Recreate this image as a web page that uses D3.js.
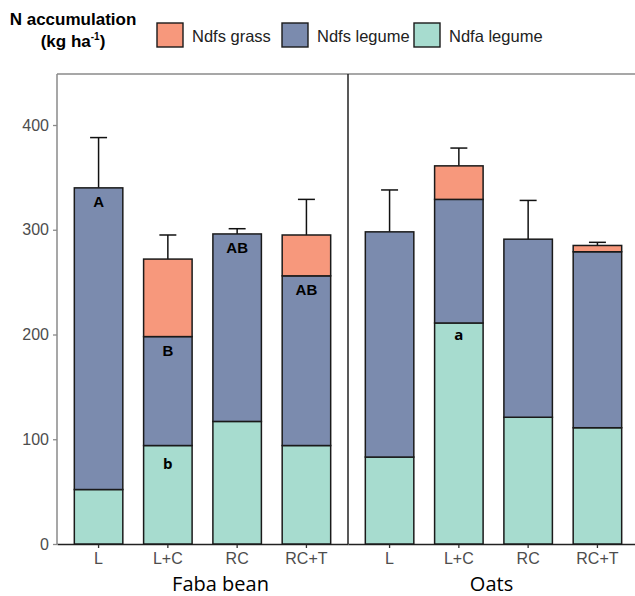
<!DOCTYPE html>
<html>
<head>
<meta charset="utf-8">
<script src="https://cdn.jsdelivr.net/npm/d3@7"></script>
<style>
  body { margin: 0; background: #fff; }
</style>
</head>
<body>
<div id="chart"></div>
<script>
// data
var crops = ["Faba bean", "Oats"];
var treatments = ["L", "L+C", "RC", "RC+T"];
var ndfaLegume = [52, 94, 117, 94, 83, 211, 121, 111];
var ndfsLegume = [288, 104, 179, 162, 215, 118, 170, 168];
var ndfsGrass = [0, 74, 0, 39, 0, 32, 0, 6];
var errorSE = [48, 23, 5, 34, 40, 17, 37, 3];
var lettersUpper = ["A", "B", "AB", "AB", "", "", "", ""];
var lettersLower = ["", "b", "", "", "", "a", "", ""];
var yTicks = [0, 100, 200, 300, 400];

var seriesNames = ["Ndfs grass", "Ndfs legume", "Ndfa legume"];
var colors = {"Ndfs grass": "#F7987C", "Ndfs legume": "#7B8BAE", "Ndfa legume": "#A7DCCF"};

var svgWidth = 635;
var svgHeight = 596;
var margin = {top: 74, left: 57, bottom: 52};
var panelWidth = 291;
var plotBottom = svgHeight - margin.bottom;

var svg = d3.select("#chart")
  .append("svg")
  .attr("width", svgWidth)
  .attr("height", svgHeight);

// build rows
var rows = [];
crops.forEach(function(crop, ci) {
  treatments.forEach(function(t, ti) {
    var i = ci * 4 + ti;
    rows.push({
      crop: crop, treat: t, idx: i,
      "Ndfa legume": ndfaLegume[i],
      "Ndfs legume": ndfsLegume[i],
      "Ndfs grass": ndfsGrass[i],
      se: errorSE[i]
    });
  });
});

var y = d3.scaleLinear()
  .domain([0, 448.7])
  .range([plotBottom, margin.top]);

var xPanel = d3.scaleBand()
  .domain(crops)
  .range([margin.left, margin.left + panelWidth * 2]);

var x = d3.scaleBand()
  .domain(treatments)
  .range([0, panelWidth])
  .paddingInner(0.3)
  .paddingOuter(0.25);

var stack = d3.stack().keys(["Ndfa legume", "Ndfs legume", "Ndfs grass"]);
var stacked = stack(rows);

// top border
svg.append("line")
  .attr("x1", margin.left).attr("x2", svgWidth)
  .attr("y1", margin.top).attr("y2", margin.top)
  .attr("stroke", "#8a8a8a").attr("stroke-width", 1.5);

// y axis
var yAxis = svg.append("g")
  .attr("transform", `translate(${margin.left},0)`)
  .call(d3.axisLeft(y).tickValues(yTicks).tickSize(4).tickSizeOuter(0));
yAxis.select(".domain").attr("stroke", "#8a8a8a").attr("stroke-width", 1.5)
  .attr("d", `M0,${margin.top}V${plotBottom}`);
yAxis.selectAll(".tick line").attr("stroke", "#8a8a8a").attr("stroke-width", 1.3);
yAxis.selectAll(".tick text")
  .attr("fill", "#4d4d4d")
  .attr("font-family", "Liberation Sans, Arial, sans-serif")
  .attr("font-size", "16px")
  .attr("dx", "-1");

// panel separator
svg.append("line")
  .attr("x1", xPanel("Oats")).attr("x2", xPanel("Oats"))
  .attr("y1", margin.top).attr("y2", plotBottom)
  .attr("stroke", "#222").attr("stroke-width", 1.5);

crops.forEach(function(crop) {
  var g = svg.append("g").attr("transform", `translate(${xPanel(crop)},0)`);
  var xa = g.append("g")
    .attr("transform", `translate(0,${plotBottom})`)
    .call(d3.axisBottom(x).tickSize(4).tickSizeOuter(0).tickPadding(5));
  xa.select(".domain").attr("stroke", "#222").attr("stroke-width", 1.5);
  xa.selectAll(".tick line").attr("stroke", "#333").attr("stroke-width", 1.3);
  xa.selectAll(".tick text")
    .attr("fill", "#4d4d4d")
    .attr("font-family", "Liberation Sans, Arial, sans-serif")
    .attr("font-size", "16px");

  g.append("text")
    .attr("x", panelWidth / 2 + (crop === "Faba bean" ? 18 : -2))
    .attr("y", 591)
    .attr("text-anchor", "middle")
    .attr("font-family", "Open Sans, sans-serif")
    .attr("font-size", "20px")
    .attr("fill", "#000")
    .text(crop);
});

// error bars
var errG = svg.append("g");
rows.forEach(function(d) {
  var total = d["Ndfa legume"] + d["Ndfs legume"] + d["Ndfs grass"];
  var cx = xPanel(d.crop) + x(d.treat) + x.bandwidth() / 2;
  var cap = x.bandwidth() * 0.175;
  errG.append("line")
    .attr("x1", cx).attr("x2", cx)
    .attr("y1", y(total)).attr("y2", y(total + d.se))
    .attr("stroke", "#111").attr("stroke-width", 1.5);
  errG.append("line")
    .attr("x1", cx - cap).attr("x2", cx + cap)
    .attr("y1", y(total + d.se)).attr("y2", y(total + d.se))
    .attr("stroke", "#111").attr("stroke-width", 1.5);
});

// stacked bars
stacked.forEach(function(layer) {
  svg.append("g")
    .selectAll("rect")
    .data(layer.filter(function(s) { return s[1] - s[0] > 0; }))
    .enter()
    .append("rect")
    .attr("x", function(s) { return xPanel(s.data.crop) + x(s.data.treat); })
    .attr("width", x.bandwidth())
    .attr("y", function(s) { return y(s[1]); })
    .attr("height", function(s) { return y(s[0]) - y(s[1]); })
    .attr("fill", colors[layer.key])
    .attr("stroke", "#1a1a1a")
    .attr("stroke-width", 1.5);
});

// significance letters
var legTop = stacked[1];
var fixTop = stacked[0];
rows.forEach(function(d, i) {
  var cx = xPanel(d.crop) + x(d.treat) + x.bandwidth() / 2;
  if (lettersUpper[i]) {
    svg.append("text")
      .attr("x", cx).attr("y", y(legTop[i][1]) + 19)
      .attr("text-anchor", "middle")
      .attr("font-family", "Liberation Sans, Arial, sans-serif")
      .attr("font-weight", "bold").attr("font-size", "15px")
      .text(lettersUpper[i]);
  }
  if (lettersLower[i]) {
    svg.append("text")
      .attr("x", cx).attr("y", y(fixTop[i][1]) + (i === 1 ? 23 : 17))
      .attr("text-anchor", "middle")
      .attr("font-family", "Open Sans, sans-serif")
      .attr("font-weight", "bold").attr("font-size", "15px")
      .text(lettersLower[i]);
  }
});

// title
var title = svg.append("text")
  .attr("font-family", "Liberation Sans, Arial, sans-serif")
  .attr("font-weight", "bold")
  .attr("font-size", "17px")
  .attr("fill", "#000")
  .attr("text-anchor", "middle");
title.append("tspan").attr("x", 73).attr("y", 25).text("N accumulation");
var t2 = title.append("tspan").attr("x", 73).attr("y", 47);
t2.append("tspan").text("(kg ha");
t2.append("tspan").attr("font-size", "10px").attr("dy", "-7").text("-1");
t2.append("tspan").attr("dy", "7").text(")");

// legend
var legendX = [157, 282, 414];
var legend = svg.append("g");
seriesNames.forEach(function(name, i) {
  legend.append("rect")
    .attr("x", legendX[i]).attr("y", 23)
    .attr("width", 26).attr("height", 24)
    .attr("fill", colors[name])
    .attr("stroke", "#1a1a1a").attr("stroke-width", 1.4);
  legend.append("text")
    .attr("x", legendX[i] + 35).attr("y", 42)
    .attr("font-family", "Liberation Sans, Arial, sans-serif")
    .attr("font-size", "16.5px")
    .attr("fill", "#222")
    .text(name);
});
</script>
</body>
</html>
